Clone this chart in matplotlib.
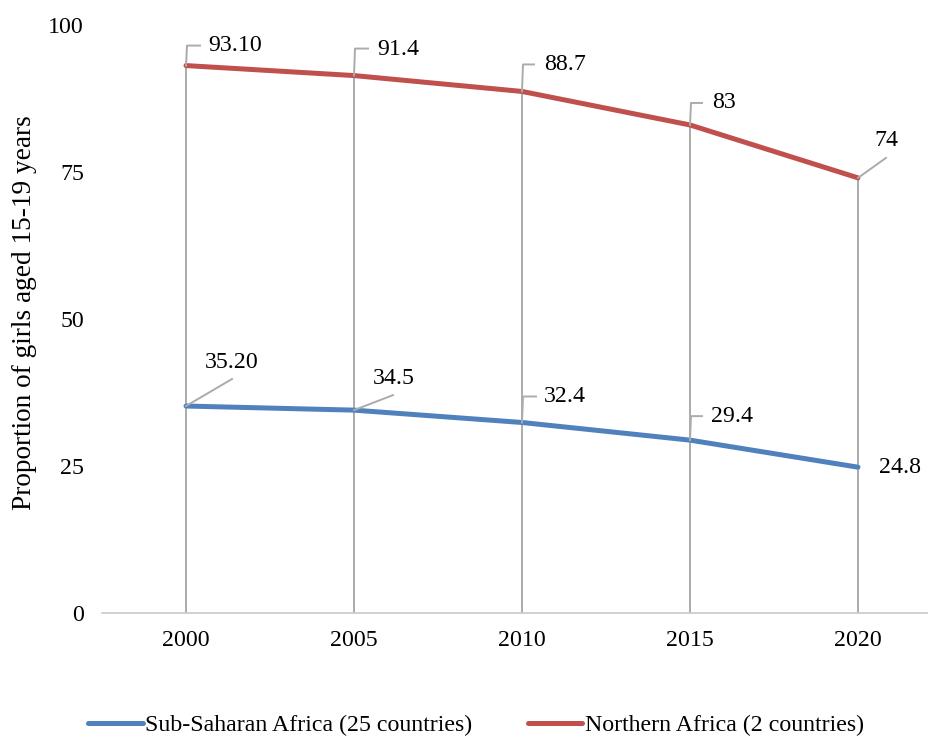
import matplotlib
matplotlib.use("Agg")
import matplotlib.pyplot as plt
from matplotlib.lines import Line2D
from matplotlib.transforms import IdentityTransform

years = ["2000", "2005", "2010", "2015", "2020"]
ssa = [35.20, 34.5, 32.4, 29.4, 24.8]
na = [93.10, 91.4, 88.7, 83, 74]
ssa_labels = ["35.20", "34.5", "32.4", "29.4", "24.8"]
na_labels = ["93.10", "91.4", "88.7", "83", "74"]
ssa_name = "Sub-Saharan Africa (25 countries)"
na_name = "Northern Africa (2 countries)"
ylabel = "Proportion of girls aged 15-19 years"
yticks = [0, 25, 50, 75, 100]

BLUE = "#4F81BD"
RED = "#C0504D"
GRAY = "#ABABAB"

plt.rcParams['font.family'] = ['Liberation Serif', 'DejaVu Serif']
FS = 17.2

fig = plt.figure(figsize=(9.29, 7.37), dpi=100)
W, H = 929, 737
ax = fig.add_axes([102 / W, (737 - 613) / H, 840 / W, 588 / H])
x = list(range(len(years)))
ax.set_xlim(-0.5, 4.5)
ax.set_ylim(0, 100)

ax.vlines(x, 0, na, color=GRAY, lw=1.4, zorder=1)
l1, = ax.plot(x, ssa, color=BLUE, lw=3.6, solid_capstyle='round', zorder=3)
l2, = ax.plot(x, na, color=RED, lw=3.6, solid_capstyle='round', zorder=3)

for s in ['left', 'right', 'top']:
    ax.spines[s].set_visible(False)
ax.spines['bottom'].set_color('#C8C8C8')
ax.spines['bottom'].set_linewidth(1.2)
ax.set_xticks(x)
ax.set_xticklabels(years)
ax.set_yticks(yticks)
ax.tick_params(axis='both', length=0, labelsize=FS)
ax.tick_params(axis='y', pad=13)
ax.tick_params(axis='x', pad=12)

fig.text(25 / W, (737 - 313) / H, ylabel, rotation=90, ha='center', va='center', fontsize=19.6)

# label specs: (style, leader offsets (px, up positive), text offset, ha)
na_spec = [
    ('elbow', (0, 20, 14), (22, 20), 'left'),
    ('elbow', (0, 27, 14), (23, 26), 'left'),
    ('elbow', (0, 27, 12), (22, 27), 'left'),
    ('elbow', (0, 22, 12), (22, 22), 'left'),
    ('diag', (28, 20), (28, 37), 'center'),
]
ssa_spec = [
    ('diag', (46, 27), (46, 44), 'center'),
    ('diag', (39, 15), (40, 32), 'center'),
    ('elbow', (0, 26, 14), (22, 26), 'left'),
    ('elbow', (0, 24, 12), (21, 24), 'left'),
    ('none', None, (21, 0), 'left'),
]

def draw_labels(vals, labels, specs):
    for xi, v, lab, (style, lead, toff, ha) in zip(x, vals, labels, specs):
        px, py = ax.transData.transform((xi, v))
        if style == 'elbow':
            dx0, up, right = lead
            xs = [px, px + 1, px + right]
            ys = [py, py + up, py + up]
            fig.add_artist(Line2D(xs, ys, transform=IdentityTransform(), color=GRAY, lw=1.4, zorder=2))
        elif style == 'diag':
            ddx, ddy = lead
            fig.add_artist(Line2D([px, px + ddx], [py, py + ddy], transform=IdentityTransform(), color=GRAY, lw=1.4, zorder=2))
        tx, ty = px + toff[0], py + toff[1]
        fig.text(tx / W, ty / H, lab, ha=ha, va='center', fontsize=FS)

draw_labels(na, na_labels, na_spec)
draw_labels(ssa, ssa_labels, ssa_spec)

fig.legend([l1, l2], [ssa_name, na_name], loc='center', bbox_to_anchor=(476 / W, 12 / H),
           ncol=2, frameon=False, fontsize=FS, handlelength=2.3, handletextpad=0.1,
           columnspacing=2.3, borderaxespad=0)

fig.savefig("out.png", dpi=100)
